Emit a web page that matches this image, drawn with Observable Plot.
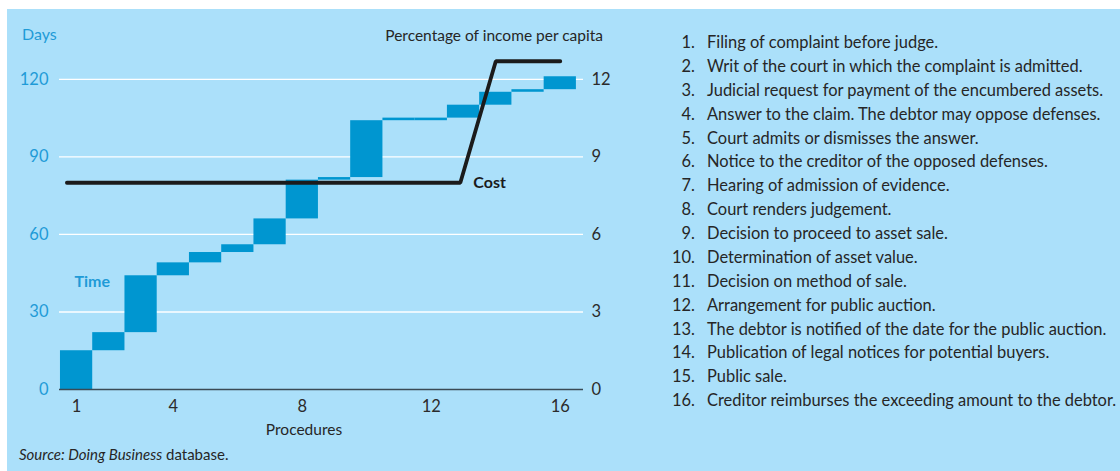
<!DOCTYPE html>
<html><head><meta charset="utf-8">
<script src="https://cdn.jsdelivr.net/npm/d3@7"></script>
<script src="https://cdn.jsdelivr.net/npm/@observablehq/plot@0.6"></script>
<style>
html,body{margin:0;padding:0;background:#fff;width:1120px;height:471px;overflow:hidden;font-family:Lato,"Open Sans",sans-serif;}
#panel{position:absolute;left:7px;top:9px;width:1113px;height:462px;background:#abe0fa;}
#chart{position:absolute;left:0;top:0;}
.lbl{position:absolute;white-space:nowrap;font-size:16px;line-height:16px;color:#262626;}
#legend{position:absolute;left:650px;top:31px;font-size:16.45px;line-height:23.87px;color:#262626;}
#legend .row{white-space:nowrap;}
#legend .num{display:inline-block;width:45px;text-align:right;}
#legend .txt{display:inline-block;margin-left:12px;}
</style></head>
<body>
<div id="panel"></div>
<div id="chart"></div>
<div class="lbl" id="days" style="left:22px;top:26px;color:#1f9bd7;">Days</div>
<div class="lbl" id="pct" style="right:517px;top:27px;font-size:15.5px;">Percentage of income per capita</div>
<div class="lbl" id="procs" style="left:204px;width:200px;text-align:center;top:421px;font-size:15.5px;">Procedures</div>
<div class="lbl" id="src" style="left:19px;top:446px;font-size:15px;"><i>Source: Doing Business</i> database.</div>
<div id="legend"></div>
<script>
const procedures = [1,2,3,4,5,6,7,8,9,10,11,12,13,14,15,16];
const timeStart = [0,15,22,44,49,53,56,66,81,82,104,104,105,110,115,116];
const timeEnd   = [15,22,44,49,53,56,66,81,82,104,105,105,110,115,116,121];
const costX   = [0.7, 12.9, 14.0, 16.0];
const costPct = [8, 8, 12.7, 12.7];
const xTicks = [1,4,8,12,16];
const dayTicks = [0,30,60,90,120];
const pctTicks = [0,3,6,9,12];
const procedureLabels = [
  "Filing of complaint before judge.",
  "Writ of the court in which the complaint is admitted.",
  "Judicial request for payment of the encumbered assets.",
  "Answer to the claim. The debtor may oppose defenses.",
  "Court admits or dismisses the answer.",
  "Notice to the creditor of the opposed defenses.",
  "Hearing of admission of evidence.",
  "Court renders judgement.",
  "Decision to proceed to asset sale.",
  "Determination of asset value.",
  "Decision on method of sale.",
  "Arrangement for public auction.",
  "The debtor is notified of the date for the public auction.",
  "Publication of legal notices for potential buyers.",
  "Public sale.",
  "Creditor reimburses the exceeding amount to the debtor."
];

const rows = procedures.map((p,i)=>({p, s: timeStart[i], e: timeEnd[i]}));
const cost = costX.map((x,i)=>({x, y: costPct[i]*10}));
const BLUE_TXT = "#1f9bd7";

const chart = Plot.plot({
  width: 640, height: 471,
  marginLeft: 59, marginRight: 57, marginTop: 53, marginBottom: 82,
  x: {domain: [0.47, 16.72]},
  y: {domain: [0, 130]},
  style: {background: "transparent", fontFamily: "Lato, 'Open Sans', sans-serif", fontSize: "16px", overflow: "visible"},
  marks: [
    Plot.gridY(dayTicks.filter(d => d > 0), {stroke: "#ffffff", strokeOpacity: 1, strokeWidth: 1.4}),
    Plot.rect(rows, {x1: d => d.p - 0.5, x2: d => d.p + 0.5, y1: "s", y2: "e", fill: "#0096d0"}),
    Plot.ruleY([0], {stroke: "#3a4a55", strokeWidth: 1.5}),
    Plot.line(cost, {x: "x", y: "y", stroke: "#1b1b1b", strokeWidth: 3.8, strokeLinejoin: "miter"}),
    Plot.axisY(dayTicks, {anchor: "left", tickSize: 0, tickPadding: 11, fill: BLUE_TXT, label: null, fontSize: 16.5}),
    Plot.axisY(pctTicks.map(v => v*10), {anchor: "right", tickSize: 0, tickPadding: 8, tickFormat: d => String(d/10), fill: "#2b2b2b", label: null, fontSize: 16.5}),
    Plot.axisX(xTicks, {anchor: "bottom", tickSize: 0, tickPadding: 11, fill: "#2b2b2b", label: null, fontSize: 16.5}),
    Plot.text([rows[0]], {x: d => d.p - 0.5, y: () => timeEnd[2], text: () => "Time", textAnchor: "start", dx: 14, dy: 6, fill: BLUE_TXT, fontWeight: "bold", fontSize: 16}),
    Plot.text([cost[1]], {x: "x", y: "y", text: () => "Cost", textAnchor: "start", dx: 13, dy: 0, fill: "#1b1b1b", fontWeight: "bold", fontSize: 16})
  ]
});
document.getElementById("chart").appendChild(chart);

const leg = document.getElementById("legend");
procedureLabels.forEach((t,i) => {
  const r = document.createElement("div");
  r.className = "row";
  r.innerHTML = `<span class="num">${procedures[i]}.</span><span class="txt"></span>`;
  r.querySelector(".txt").textContent = t;
  leg.appendChild(r);
});
</script>
</body></html>
